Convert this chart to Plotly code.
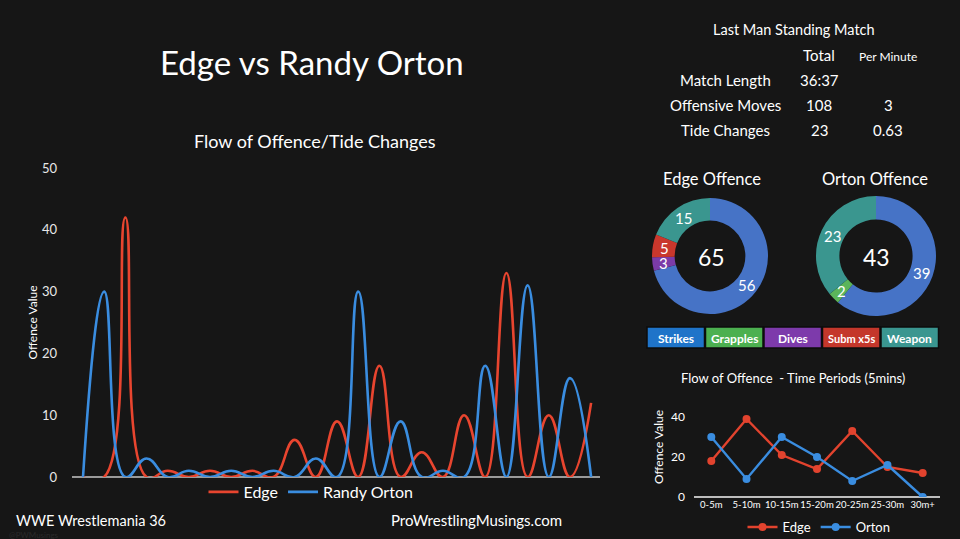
import math
import plotly.graph_objects as go

# ---------------- data ----------------
flow_idx = list(range(25))
edge_flow = [0, 0, 42, 0, 1, 0, 1, 0, 1, 0, 6, 0, 9, 0, 18, 0, 4, 0, 10, 0, 33, 0, 10, 0, 12]
orton_flow = [0, 30, 0, 3, 0, 1, 0, 1, 0, 1, 0, 3, 0, 30, 0, 9, 0, 1, 0, 18, 0, 31, 0, 16, 0]

periods = ["0-5m", "5-10m", "10-15m", "15-20m", "20-25m", "25-30m", "30m+"]
edge_period = [18, 39, 21, 14, 33, 15, 12]
orton_period = [30, 9, 30, 20, 8, 16, 0]

move_types = ["Strikes", "Grapples", "Dives", "Subm x5s", "Weapon"]
edge_moves = [56, 0, 3, 5, 15]
orton_moves = [39, 2, 0, 0, 23]
edge_total_moves = 65
orton_total_moves = 43

table_rows = ["Match Length", "Offensive Moves", "Tide Changes"]
table_total = ["36:37", "108", "23"]
table_per_min = ["", "3", "0.63"]

# ---------------- styling ----------------
W, H = 960, 539
FONT = "Lato"
BG = "#161616"
RED = "#E8452F"
BLUE = "#3A8DE0"
slice_colors = ["#4673C6", "#5BB55A", "#7B3BA8", "#C9372C", "#3A968F"]
box_colors = ["#1F74C9", "#4CB050", "#7D3AAB", "#C4372B", "#3A9690"]


def px(x):
    return x / W


def py(y):
    return (H - y) / H


fig = go.Figure()

# main flow chart
fig.add_trace(go.Scatter(x=flow_idx, y=edge_flow, mode="lines", name="Edge",
                         line=dict(color=RED, width=2.6, shape="spline", smoothing=1.3),
                         legend="legend"))
fig.add_trace(go.Scatter(x=flow_idx, y=orton_flow, mode="lines", name="Randy Orton",
                         line=dict(color=BLUE, width=2.6, shape="spline", smoothing=1.3),
                         legend="legend"))

# small period chart
fig.add_trace(go.Scatter(x=periods, y=edge_period, mode="lines+markers", name="Edge",
                         line=dict(color="#E2432E", width=2.4),
                         marker=dict(size=8, color="#E2432E"),
                         xaxis="x2", yaxis="y2", legend="legend2"))
fig.add_trace(go.Scatter(x=periods, y=orton_period, mode="lines+markers", name="Orton",
                         line=dict(color="#3A8DE0", width=2.4),
                         marker=dict(size=8, color="#3A8DE0"),
                         xaxis="x2", yaxis="y2", legend="legend2"))

annotations = []


def txt(x, y, s, size, color="white", bold=False, xanchor="center", height=None):
    a = dict(x=px(x), y=py(y), xref="paper", yref="paper",
             text=("<b>%s</b>" % s) if bold else s, showarrow=False,
             xanchor=xanchor, yanchor="middle",
             font=dict(family=FONT, size=size, color=color))
    if height:
        a["height"] = height
    annotations.append(a)


# donuts (slice labels placed at each slice's mid-angle, mid-ring, like the original)
HOLE = 0.61
for vals, x0, x1 in [(edge_moves, 652, 768), (orton_moves, 816, 936)]:
    fig.add_trace(go.Pie(labels=move_types, values=vals, textinfo="none",
                         hole=HOLE, sort=False, direction="clockwise", rotation=0,
                         marker=dict(colors=slice_colors, line=dict(width=0)),
                         domain=dict(x=[px(x0), px(x1)], y=[py(316), py(196)]),
                         showlegend=False))
    cx, cy = (x0 + x1) / 2, 256
    r_out = min(x1 - x0, 120) / 2
    r_mid = r_out * (1 + HOLE) / 2
    total = sum(vals)
    cum = 0
    for v in vals:
        if v > 0:
            ang = math.radians((cum + v / 2) / total * 360)
            txt(cx + r_mid * math.sin(ang), cy - r_mid * math.cos(ang), str(v), 15, height=13)
        cum += v

txt(312, 62, "Edge vs Randy Orton", 33)
txt(315, 141, "Flow of Offence/Tide Changes", 18)
txt(794, 30, "Last Man Standing Match", 14.5)
txt(819, 55, "Total", 15)
txt(888, 57, "Per Minute", 12)
for i, (r, t, p) in enumerate(zip(table_rows, table_total, table_per_min)):
    y = 80 + i * 25
    txt(725, y, r, 15)
    txt(819, y, t, 15)
    if p:
        txt(888, y, p, 15)

txt(712, 179, "Edge Offence", 16.5)
txt(875, 179, "Orton Offence", 16.5)
txt(711, 257, str(edge_total_moves), 23)
txt(876, 257, str(orton_total_moves), 23)

txt(793, 378, "Flow of Offence  - Time Periods (5mins)", 13)
txt(14, 520, "WWE Wrestlemania 36", 14.5, xanchor="left")
txt(476, 520, "ProWrestlingMusings.com", 15)
txt(7, 535, "@PWMusings", 8, color="#2a2a2a", xanchor="left")

# category legend boxes
shapes = []
box_x = [647, 705.5, 764, 822.5, 881]
box_w = 57.5
for i, (name, col) in enumerate(zip(move_types, box_colors)):
    x0 = box_x[i]
    shapes.append(dict(type="rect", xref="paper", yref="paper",
                       x0=px(x0), x1=px(x0 + box_w), y0=py(348), y1=py(327),
                       fillcolor=col, line=dict(color="#0c0c0c", width=1.5), layer="above"))
    txt(x0 + box_w / 2, 338, name, 11 if name == "Subm x5s" else 12, bold=True)

fig.update_layout(
    width=W, height=H,
    margin=dict(l=0, r=0, t=0, b=0, autoexpand=False),
    paper_bgcolor=BG, plot_bgcolor="rgba(0,0,0,0)",
    font=dict(family=FONT, color="white"),
    xaxis=dict(domain=[px(72), px(600)], range=[-0.52, 24.42], showticklabels=False,
               showgrid=False, zeroline=False, showline=False, ticks="", automargin=False),
    yaxis=dict(domain=[py(477), py(168)], range=[0, 50], dtick=10, showgrid=False,
               zeroline=True, zerolinecolor="#9a9a9a", zerolinewidth=2,
               showline=False, ticks="", ticklabelstandoff=14, automargin=False,
               tickfont=dict(family=FONT, size=13, color="#e8e8e8"),
               title=dict(text="Offence Value", font=dict(family=FONT, size=12, color="white"),
                          standoff=1)),
    xaxis2=dict(domain=[px(694), px(940)], anchor="y2", showgrid=False, zeroline=False,
                showline=False, ticks="", tickangle=0, automargin=False,
                tickfont=dict(family=FONT, size=9.5, color="white")),
    yaxis2=dict(domain=[py(497), py(397)], anchor="x2", range=[0, 50], tickvals=[0, 20, 40],
                showgrid=False, zeroline=True, zerolinecolor="#bdbdbd", zerolinewidth=1.5,
                showline=False, ticks="", ticklabelstandoff=8, automargin=False,
                tickfont=dict(family=FONT, size=12, color="white"),
                title=dict(text="Offence Value", font=dict(family=FONT, size=12, color="white"),
                           standoff=4)),
    legend=dict(orientation="h", x=px(311), xanchor="center", y=py(492), yanchor="middle",
                bgcolor="rgba(0,0,0,0)", font=dict(family=FONT, size=16, color="white"),
                itemwidth=30, tracegroupgap=0),
    legend2=dict(orientation="h", x=px(819), xanchor="center", y=py(527), yanchor="middle",
                 bgcolor="rgba(0,0,0,0)", font=dict(family=FONT, size=13, color="white"),
                 itemwidth=30),
    annotations=annotations,
    shapes=shapes,
)

fig.write_html("out.html",
               config=dict(displayModeBar=False),
               post_script="document.body.style.margin='0px';"
                           "document.body.style.background='#161616';")
